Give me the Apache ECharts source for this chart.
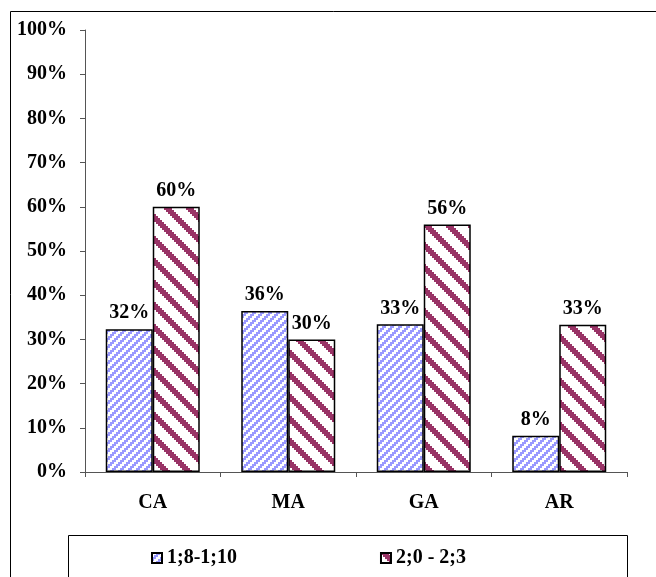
<!DOCTYPE html>
<html>
<head>
<meta charset="utf-8">
<script src="https://cdn.jsdelivr.net/npm/echarts@6/dist/echarts.min.js"></script>
<style>html,body{margin:0;padding:0;background:#fff;}#c{width:656px;height:577px;}</style>
</head>
<body>
<div id="c"></div>
<script>
const categories = ['CA', 'MA', 'GA', 'AR'];
const seriesNames = ['1;8-1;10', '2;0 - 2;3'];
const valuesA = [32.3, 36.4, 33.4, 8.2];
const valuesB = [60, 30, 56, 33.3];
const yTicks = [0, 10, 20, 30, 40, 50, 60, 70, 80, 90, 100];

function makePattern(size, color, dir, thick) {
  const c = document.createElement('canvas');
  c.width = size; c.height = size;
  const ctx = c.getContext('2d');
  ctx.fillStyle = '#fff';
  ctx.fillRect(0, 0, size, size);
  ctx.fillStyle = color;
  for (let y = 0; y < size; y++) {
    const shift = Math.floor(y / 2) * 2;
    for (let t = 0; t < thick; t++) {
      let x = dir > 0 ? (size - shift - thick + t) : (shift + t);
      x = ((x % size) + size) % size;
      ctx.fillRect(x, y, 1, 1);
    }
  }
  return c;
}
const patA = makePattern(8, '#9999ff', 1, 4);
const patB = makePattern(22, '#993366', -1, 8);

const font = '"Liberation Serif", "Times New Roman", serif';
const fs = 20;
const chart = echarts.init(document.getElementById('c'));
chart.setOption({
  backgroundColor: '#fff',
  animation: false,
  textStyle: { fontFamily: font },
  grid: { left: 85, right: 29, top: 30, bottom: 105 },
  graphic: [
    { type: 'rect', shape: { x: 10.5, y: 11.5, width: 700, height: 700 }, style: { fill: 'none', stroke: '#000', lineWidth: 1 }, z: -10 },
    { type: 'rect', shape: { x: 68.5, y: 535.5, width: 559, height: 80 }, style: { fill: 'none', stroke: '#000', lineWidth: 1 }, z: -10 }
  ],
  legend: {
    left: 146, top: 543,
    itemWidth: 10, itemHeight: 10, itemGap: 143,
    icon: 'rect',
    textStyle: { fontFamily: font, fontWeight: 'bold', fontSize: fs, color: '#000' },
    data: seriesNames
  },
  xAxis: {
    type: 'category', data: categories,
    axisLine: { lineStyle: { color: '#555', width: 1 } },
    axisTick: { show: true, length: 5, lineStyle: { color: '#555' } },
    axisLabel: { fontFamily: font, fontWeight: 'bold', fontSize: fs, color: '#000', margin: 21 }
  },
  yAxis: {
    type: 'value', min: 0, max: 100, interval: 10,
    splitLine: { show: false },
    axisLine: { show: true, lineStyle: { color: '#555', width: 1 } },
    axisTick: { show: true, length: 5, lineStyle: { color: '#555' } },
    axisLabel: { fontFamily: font, fontWeight: 'bold', fontSize: fs, color: '#000', margin: 18,
      formatter: v => yTicks.includes(v) ? v + '%' : '' }
  },
  series: [
    { name: seriesNames[0], type: 'bar', data: valuesA, barWidth: 47, barGap: '0%',
      itemStyle: { color: { image: patA, repeat: 'repeat' }, borderColor: '#000', borderWidth: 1.5 },
      label: { show: true, position: 'top', distance: 6, fontFamily: font, fontWeight: 'bold', fontSize: fs, color: '#000',
        formatter: p => Math.round(p.value) + '%' } },
    { name: seriesNames[1], type: 'bar', data: valuesB, barWidth: 47,
      itemStyle: { color: { image: patB, repeat: 'repeat' }, borderColor: '#000', borderWidth: 1.5 },
      label: { show: true, position: 'top', distance: 6, fontFamily: font, fontWeight: 'bold', fontSize: fs, color: '#000',
        formatter: p => Math.round(p.value) + '%' } }
  ]
});
</script>
</body>
</html>
